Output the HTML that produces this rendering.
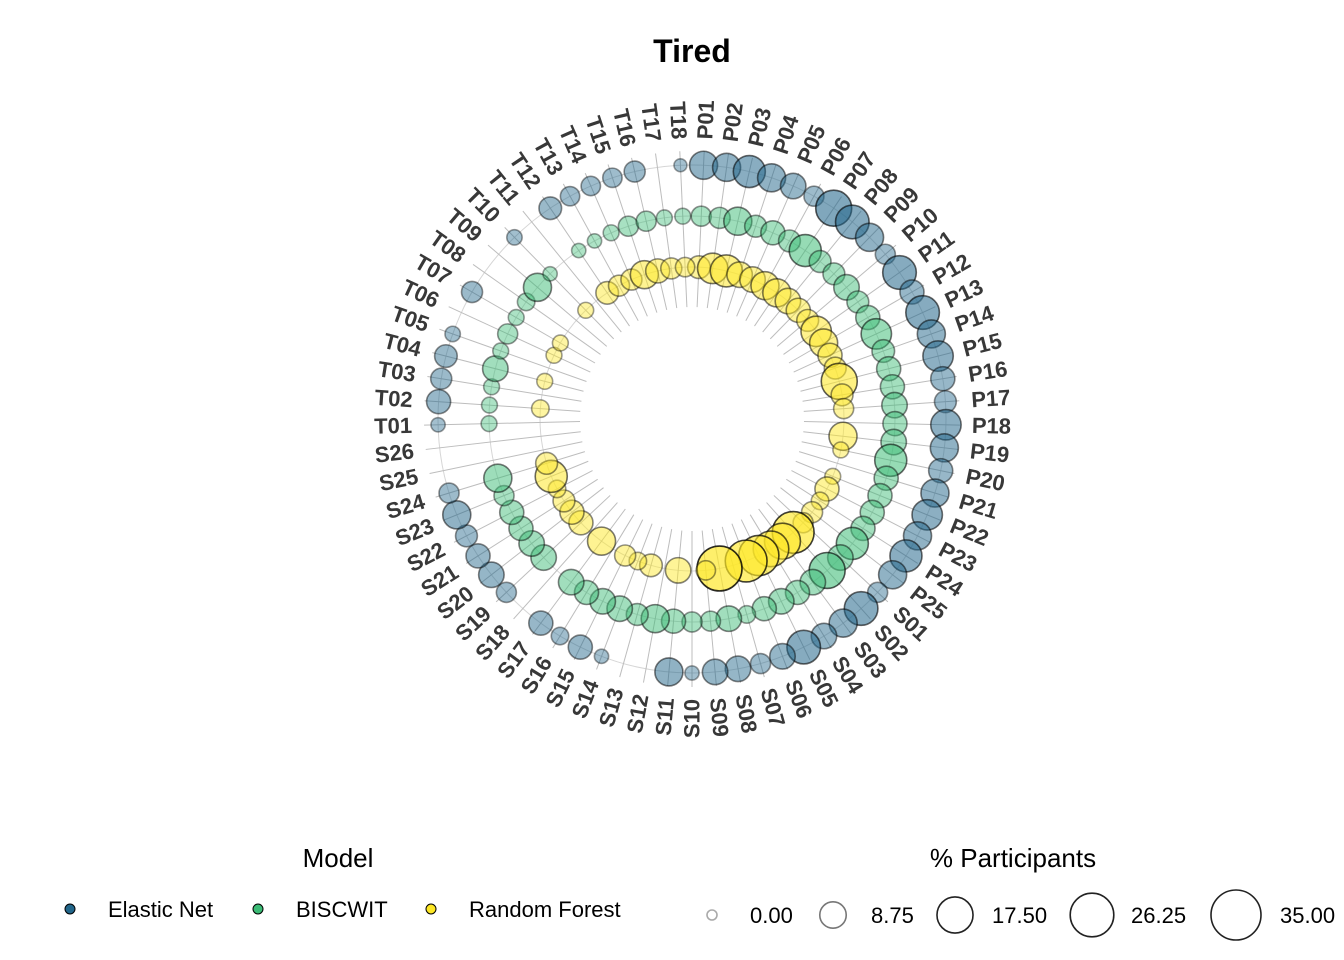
<!DOCTYPE html>
<html><head><meta charset="utf-8"><style>
html,body{margin:0;padding:0;background:#fff;}
svg{display:block;font-family:"Liberation Sans",sans-serif;}
</style></head><body>
<svg id="chart" width="1344" height="960" viewBox="0 0 1344 960" xmlns="http://www.w3.org/2000/svg">
<text x="692" y="62" text-anchor="middle" font-size="32" font-weight="bold" fill="#000">Tired</text>
<g id="grid"></g>
<g id="marks"></g>
<g id="labels"></g>
<g>
<text x="338" y="867" text-anchor="middle" font-size="26" fill="#000">Model</text>
<circle cx="70" cy="909" r="5" fill="#22668a" stroke="#000" stroke-width="1"/>
<text x="108" y="917" font-size="22" fill="#000">Elastic Net</text>
<circle cx="258" cy="909" r="5" fill="#3bbb75" stroke="#000" stroke-width="1"/>
<text x="296" y="917" font-size="22" fill="#000">BISCWIT</text>
<circle cx="431" cy="909" r="5" fill="#fde725" stroke="#000" stroke-width="1"/>
<text x="469" y="917" font-size="22" fill="#000">Random Forest</text>
</g>
<g id="sizeLegend">
<text x="1013" y="867" text-anchor="middle" font-size="26" fill="#000">% Participants</text>
</g>
</svg>
<script>
const pCats = Array.from({length:25},(_, i)=>'P'+String(i+1).padStart(2,'0'));
const sCats = Array.from({length:26},(_, i)=>'S'+String(i+1).padStart(2,'0'));
const tCats = Array.from({length:18},(_, i)=>'T'+String(i+1).padStart(2,'0'));
const categories = pCats.concat(sCats, tCats);
// values in % participants, order P01..P25, S01..S26, T01..T18 (null = missing)
const elasticNet = [10,10,13.5,10,8,4.4,17.4,15,10,4.4,15,7,15,10,12,7,5.5,12,10,7,10,12,10,13.5,10,
 4.4,15,10,8,15,8,4.4,8,8,1.5,10,null,null,1.5,7,3,7,null,4.4,8,7,5.5,10,4.4,null,null,
 1.5,7,5,6,2,null,5,null,null,2,null,6,4,4,4,5,null,1];
const biscwit = [4.4,5,10,5.5,7,5.5,13.5,5.5,5.5,8,5.5,7,12,6,7,7,8,7,8,13.5,7,7,7,7,13.5,
 8,17.4,8,7,8,7,3,8,4.4,4.4,7,10,5.5,8,8,7,8,null,8,8,7,7,4.4,10,null,null,
 2.2,2.2,2.2,8,2.2,4.4,2.2,3,10,1.5,null,1.5,1.5,2.2,4.4,4.4,2.2,2.2];
const randomForest = [6,12,13.5,8,8,10,10,8,7,5.5,12,10,7,5.5,17.4,5.5,4.4,null,10,2.2,null,2.2,7,3,5,
 4.4,24,17.4,17,22,24,null,28,4,null,8,null,6,3,5,null,10,null,7,7,5.5,3,13.5,5.5,null,null,
 null,3,null,2.2,null,2.2,2.2,null,null,2.2,null,6,5,5,10,7,5,4];
const sizeTicks = [0, 8.75, 17.5, 26.25, 35];
const sizeTickLabels = ['0.00','8.75','17.50','26.25','35.00'];

const NS='http://www.w3.org/2000/svg';
const CX=692, CY=419, N=categories.length;
const angleOf = i => (i+0.5)*360/N;
const px = (deg,r) => CX + r*Math.sin(deg*Math.PI/180);
const py = (deg,r) => CY - r*Math.cos(deg*Math.PI/180);
const sizeScale = v => Math.sqrt(25 + 600*v/35);
function mk(tag, attrs, parent){const e=document.createElementNS(NS,tag);for(const k in attrs)e.setAttribute(k,attrs[k]);parent.appendChild(e);return e;}

const grid=document.getElementById('grid');
[152,203,254].forEach(r=>{
  const c=mk('circle',{cx:CX,cy:CY,r:r,fill:'none',stroke:'#d6d6d6','stroke-width':1},grid);
  
  
});
categories.forEach((c,i)=>{
  const a=angleOf(i);
  const l=mk('line',{x1:px(a,112),y1:py(a,112),x2:px(a,268),y2:py(a,268),stroke:'#bdbdbd','stroke-width':1},grid);
  
  
});

const marks=document.getElementById('marks');
const series=[
  {name:'elastic-net',vals:elasticNet,r:254,color:'#22668a'},
  {name:'biscwit',vals:biscwit,r:203,color:'#3bbb75'},
  {name:'random-forest',vals:randomForest,r:152,color:'#fde725'}
];
series.forEach(s=>{
  s.vals.forEach((v,i)=>{
    if(v===null||v===undefined)return;
    const a=angleOf(i);
    const c=mk('circle',{cx:px(a,s.r),cy:py(a,s.r),r:sizeScale(v),fill:s.color,'fill-opacity':0.4+0.35*v/35,stroke:'#000','stroke-opacity':0.35+0.6*v/35,'stroke-width':1.6},marks);
    
    
  });
});

const labels=document.getElementById('labels');
categories.forEach((c,i)=>{
  const a=angleOf(i);
  const x=px(a,280), y=py(a,280);
  const right=a<180;
  const rot=right?a-90:a+90;
  const t=mk('text',{x:x,y:y,'text-anchor':right?'start':'end','dominant-baseline':'central','font-size':22,'font-weight':'bold',fill:'#383838',transform:`rotate(${rot} ${x} ${y})`},labels);
  t.textContent=c;
  
  
});

const sl=document.getElementById('sizeLegend');
const legX=[712,833,955,1092,1236], labX=[750,871,992,1131,1280];
sizeTicks.forEach((v,i)=>{
  const c=mk('circle',{cx:legX[i],cy:915,r:sizeScale(v),fill:'none',stroke:i===0?'#aaa':(i===1?'#777':'#222'),'stroke-width':1.6},sl);
  
  
  const t=mk('text',{x:labX[i],y:923,'font-size':22,fill:'#000'},sl);
  t.textContent=sizeTickLabels[i];
  
  
});
</script>
</body></html>
